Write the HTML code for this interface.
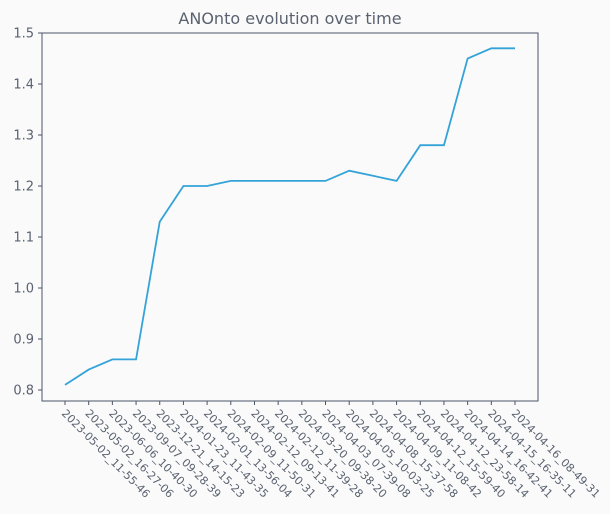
<!DOCTYPE html>
<html><head><meta charset="utf-8"><style>
body{margin:0;background:#fafafa;}
svg{display:block;font-family:"DejaVu Sans","Liberation Sans",sans-serif;}
</style></head><body>
<svg id="c" width="610" height="514">
<rect width="610" height="514" fill="#fafafa"/>
<text x="290" y="24" text-anchor="middle" font-size="16" fill="#5a6270">ANOnto evolution over time</text>
<rect x="42" y="33" width="496" height="368" fill="none" stroke="#4a5468" stroke-width="1"/>
<g id="yax"></g>
<g id="xax"></g>
<path id="ln" fill="none" stroke="#34a3d8" stroke-width="1.8"/>
</svg>
<script>
const categories=["2023-05-02_11-55-46","2023-05-02_16-27-06","2023-06-06_10-40-30","2023-09-07_09-28-39","2023-12-21_14-15-23","2024-01-23_11-43-35","2024-02-01_13-56-04","2024-02-09_11-50-31","2024-02-12_09-13-41","2024-02-12_11-39-28","2024-03-20_09-38-20","2024-04-03_07-39-08","2024-04-05_10-03-25","2024-04-08_15-37-58","2024-04-09_11-08-42","2024-04-12_15-59-40","2024-04-12_23-58-14","2024-04-14_16-42-41","2024-04-15_16-35-11","2024-04-16_08-49-31"];
const values=[0.81,0.84,0.86,0.86,1.13,1.20,1.20,1.21,1.21,1.21,1.21,1.21,1.23,1.22,1.21,1.28,1.28,1.45,1.47,1.47];
const yTicks=[0.8,0.9,1.0,1.1,1.2,1.3,1.4,1.5];
const NS="http://www.w3.org/2000/svg";
const x=i=>65+i*(515-65)/(categories.length-1);
const y=v=>390-(v-0.8)*(390-33)/0.7;
const ya=document.getElementById('yax'),xa=document.getElementById('xax');
yTicks.forEach(t=>{
 const l=document.createElementNS(NS,'line');
 
 
 l.setAttribute('x1',38);l.setAttribute('x2',42);l.setAttribute('y1',y(t));l.setAttribute('y2',y(t));l.setAttribute('stroke','#4a5468');ya.appendChild(l);
 const s=document.createElementNS(NS,'text');
 
 
 s.setAttribute('x',34);s.setAttribute('y',y(t)+4.5);s.setAttribute('text-anchor','end');s.setAttribute('font-size','13');s.setAttribute('fill','#5a6270');s.textContent=t.toFixed(1);ya.appendChild(s);
});
categories.forEach((c,i)=>{
 const l=document.createElementNS(NS,'line');
 
 
 l.setAttribute('x1',x(i));l.setAttribute('x2',x(i));l.setAttribute('y1',401);l.setAttribute('y2',405);l.setAttribute('stroke','#4a5468');xa.appendChild(l);
 const s=document.createElementNS(NS,'text');
 
 
 s.setAttribute('transform','translate('+(x(i)-4)+',414) rotate(45)');s.setAttribute('font-size','11');s.setAttribute('fill','#5a6270');s.textContent=c;xa.appendChild(s);
});
document.getElementById('ln').setAttribute('d',values.map((v,i)=>(i?'L':'M')+x(i)+','+y(v)).join(''));
</script>
</body></html>
